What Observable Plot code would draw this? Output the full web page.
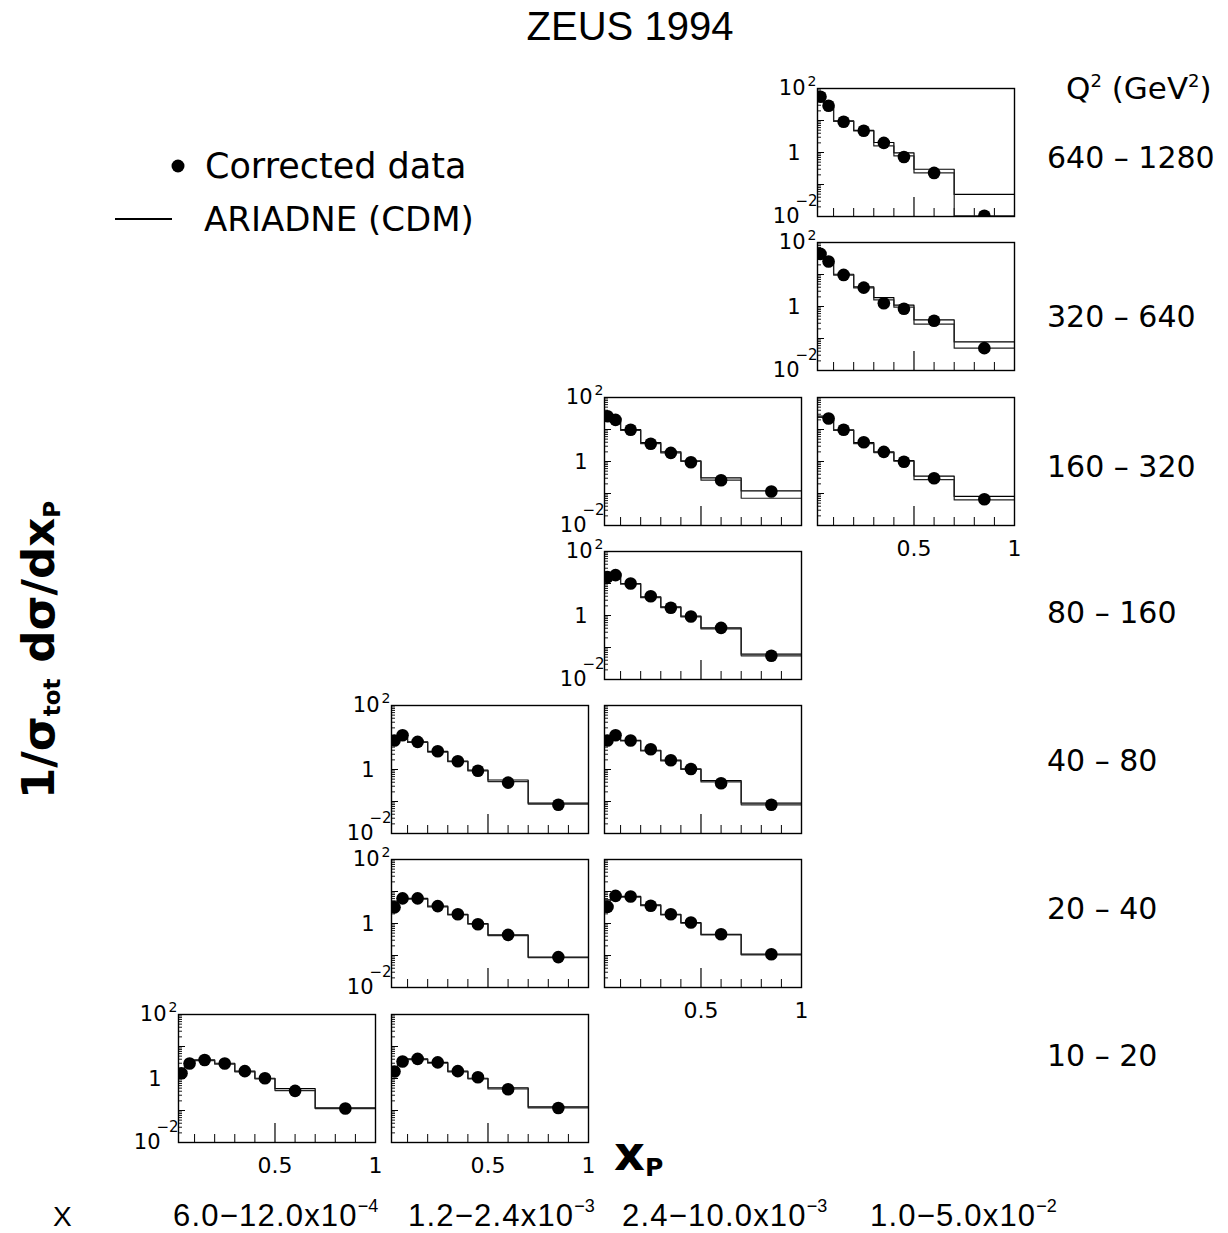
<!DOCTYPE html>
<html>
<head>
<meta charset="utf-8">
<script src="https://cdn.jsdelivr.net/npm/d3@7"></script>
<script src="https://cdn.jsdelivr.net/npm/@observablehq/plot@0.6"></script>
<style>
  html, body { margin: 0; padding: 0; background: #fff; }
  #root { position: relative; width: 1228px; height: 1233px; overflow: hidden; background: #fff; }
  .panel { position: absolute; }
  #overlay { position: absolute; left: 0; top: 0; }
</style>
</head>
<body>
<div id="root"></div>
<script>
// ---------------- data ----------------
const xpEdges   = [0.02, 0.05, 0.1, 0.2, 0.3, 0.4, 0.5, 0.7, 1.0];
const xpCenters = [0.035, 0.075, 0.15, 0.25, 0.35, 0.45, 0.6, 0.85];

const q2Labels = ["640 – 1280", "320 – 640", "160 – 320", "80 – 160", "40 – 80", "20 – 40", "10 – 20"];
const xBinBase = ["6.0−12.0x10", "1.2−2.4x10", "2.4−10.0x10", "1.0−5.0x10"];
const xBinExp  = ["−4", "−3", "−3", "−2"];

const xTickLabels = [0.5, 1];

// panel placement (row = Q2 bin from top, col = x bin)
const panelRow = [0, 1, 2, 2, 3, 4, 4, 5, 5, 6, 6];
const panelCol = [3, 3, 2, 3, 2, 1, 2, 1, 2, 0, 1];

// corrected data, ARIADNE upper / lower histogram per panel
const data_q640_x4  = [55, 29, 9.1, 4.8, 2.0, 0.72, 0.23, 0.0105];
const hi_q640_x4    = [60, 32, 9.8, 4.9, 2.05, 0.98, 0.30, 0.049];
const lo_q640_x4    = [50, 26, 9.4, 4.7, 1.6, 0.78, 0.23, 0.0105];

const data_q320_x4  = [44, 25.5, 9.7, 3.9, 1.26, 0.85, 0.36, 0.050];
const hi_q320_x4    = [52, 27, 10.2, 4.1, 1.9, 1.1, 0.38, 0.078];
const lo_q320_x4    = [46, 24, 9.6, 3.8, 1.6, 0.95, 0.28, 0.050];

const data_q160_x3  = [26, 20, 9.8, 3.6, 1.86, 0.95, 0.26, 0.115];
const hi_q160_x3    = [32, 19, 10, 3.9, 2.0, 1.05, 0.31, 0.12];
const lo_q160_x3    = [30, 17, 9.4, 3.6, 1.85, 1.0, 0.26, 0.071];

const data_q160_x4  = [null, 22, 9.8, 4.0, 2.0, 0.98, 0.30, 0.066];
const hi_q160_x4    = [26, 25, 9.8, 3.9, 2.0, 1.07, 0.35, 0.081];
const lo_q160_x4    = [24, 23, 9.4, 3.6, 1.9, 1.02, 0.27, 0.063];

const data_q80_x3   = [16, 18.3, 10, 4.0, 1.74, 0.93, 0.41, 0.055];
const hi_q80_x3     = [22, 21, 10, 3.8, 1.85, 0.95, 0.41, 0.062];
const lo_q80_x3     = [20, 19, 9.5, 3.6, 1.75, 0.9, 0.38, 0.055];

const data_q40_x2   = [8.1, 11.8, 7.3, 3.7, 1.82, 0.91, 0.39, 0.079];
const hi_q40_x2     = [8.5, 9.5, 7.3, 3.7, 1.82, 0.95, 0.47, 0.089];
const lo_q40_x2     = [8.0, 9.0, 7.0, 3.5, 1.75, 0.9, 0.42, 0.083];

const data_q40_x3   = [8.1, 11.8, 8.1, 4.3, 1.95, 1.04, 0.37, 0.079];
const hi_q40_x3     = [8.5, 9.5, 8.1, 4.0, 1.95, 1.04, 0.45, 0.089];
const lo_q40_x3     = [8.0, 9.0, 7.8, 3.8, 1.85, 1.0, 0.41, 0.079];

const data_q20_x2   = [3.2, 6.1, 6.1, 3.5, 1.94, 0.95, 0.44, 0.089];
const hi_q20_x2     = [5.0, 6.5, 6.1, 3.5, 1.94, 1.0, 0.44, 0.089];
const lo_q20_x2     = [4.5, 6.0, 5.8, 3.3, 1.85, 0.95, 0.42, 0.086];

const data_q20_x3   = [3.3, 7.3, 7.0, 3.6, 1.94, 1.07, 0.46, 0.11];
const hi_q20_x3     = [5.5, 7.0, 7.0, 3.8, 1.94, 1.07, 0.46, 0.11];
const lo_q20_x3     = [5.0, 6.6, 6.7, 3.6, 1.85, 1.02, 0.44, 0.105];

const data_q10_x1   = [1.46, 2.95, 3.8, 2.95, 1.7, 1.02, 0.41, 0.115];
const hi_q10_x1     = [2.0, 3.2, 3.8, 3.0, 1.7, 1.02, 0.48, 0.12];
const lo_q10_x1     = [1.8, 3.0, 3.6, 2.8, 1.62, 0.98, 0.42, 0.115];

const data_q10_x2   = [1.66, 3.4, 4.1, 3.2, 1.7, 1.1, 0.46, 0.12];
const hi_q10_x2     = [2.2, 3.4, 4.1, 3.2, 1.7, 1.02, 0.51, 0.13];
const lo_q10_x2     = [2.0, 3.2, 3.9, 3.0, 1.62, 0.98, 0.47, 0.12];

const panelData = [data_q640_x4, data_q320_x4, data_q160_x3, data_q160_x4, data_q80_x3,
                   data_q40_x2, data_q40_x3, data_q20_x2, data_q20_x3, data_q10_x1, data_q10_x2];
const panelHi   = [hi_q640_x4, hi_q320_x4, hi_q160_x3, hi_q160_x4, hi_q80_x3,
                   hi_q40_x2, hi_q40_x3, hi_q20_x2, hi_q20_x3, hi_q10_x1, hi_q10_x2];
const panelLo   = [lo_q640_x4, lo_q320_x4, lo_q160_x3, lo_q160_x4, lo_q80_x3,
                   lo_q40_x2, lo_q40_x3, lo_q20_x2, lo_q20_x3, lo_q10_x1, lo_q10_x2];

// ---------------- layout ----------------
const colLeft = [178, 391, 604, 817];
const rowTop0 = 88, rowStep = 154.25;
const W = 197, H = 128;
const mL = 52, mR = 4, mT = 14, mB = 34;
const FONT = "'Liberation Sans', Arial, Helvetica, sans-serif";
const GEO = "'DejaVu Sans', Verdana, sans-serif";

const root = document.getElementById("root");

const xMinorTicks = [0.1, 0.2, 0.3, 0.4, 0.6, 0.7, 0.8, 0.9];
const yMajorTicks = [0.01, 0.1, 1, 10, 100];
const yMinorTicks = [];
for (let d = -2; d < 2; d++) for (let k = 2; k <= 9; k++) yMinorTicks.push(k * Math.pow(10, d));

function steps(vals) {
  const out = [];
  vals.forEach((v, i) => { if (v != null) out.push({x: xpEdges[i], y: v}); });
  out.push({x: 1.0, y: vals[vals.length - 1]});
  return out;
}

panelRow.forEach((row, i) => {
  const col = panelCol[i];
  const leftmost = !panelRow.some((r, j) => r === row && panelCol[j] < col);
  const lowest = !panelCol.some((c, j) => c === col && panelRow[j] > row);
  const pts = xpCenters.map((x, k) => ({x, y: panelData[i][k]})).filter(d => d.y != null);

  const marks = [
    Plot.tickX(xMinorTicks, {x: d => d, insetTop: H - 8, stroke: "black", strokeWidth: 1}),
    Plot.tickX([0.5], {x: d => d, insetTop: H - 19, stroke: "black", strokeWidth: 1.2}),
    Plot.tickY(yMajorTicks, {y: d => d, insetRight: W - 7, stroke: "black", strokeWidth: 1}),
    Plot.tickY(yMinorTicks, {y: d => d, insetRight: W - 4, stroke: "black", strokeWidth: 0.9}),
    Plot.line(steps(panelHi[i]), {x: "x", y: "y", curve: "step-after", stroke: "black", strokeWidth: 1.2, clip: true}),
    Plot.line(steps(panelLo[i]), {x: "x", y: "y", curve: "step-after", stroke: "#222", strokeWidth: 1.2, clip: true}),
    Plot.dot(pts, {x: "x", y: "y", r: 6.3, fill: "black", stroke: "none", clip: true}),
    Plot.frame({stroke: "black", strokeWidth: 1.4})
  ];
  if (leftmost) {
    marks.push(
      Plot.text([100], {x: 0.02, y: d => d, text: () => "10", textAnchor: "end", dx: -12, dy: 0, fontSize: 21, fontFamily: GEO}),
      Plot.text([100], {x: 0.02, y: d => d, text: () => "2", textAnchor: "end", dx: -1, dy: -7, fontSize: 14, fontFamily: GEO}),
      Plot.text([1], {x: 0.02, y: d => d, text: () => "1", textAnchor: "end", dx: -17, dy: 1, fontSize: 21, fontFamily: GEO}),
      Plot.text([0.01], {x: 0.02, y: d => d, text: () => "10", textAnchor: "end", dx: -18, dy: 0, fontSize: 21, fontFamily: GEO}),
      Plot.text([0.01], {x: 0.02, y: d => d, text: () => "−2", textAnchor: "end", dx: 0, dy: -15, fontSize: 15, fontFamily: GEO})
    );
  }
  if (lowest) {
    marks.push(
      Plot.text(xTickLabels, {x: d => d, y: 0.01, text: d => String(d), dy: 23, fontSize: 22, fontFamily: GEO})
    );
  }

  const chart = Plot.plot({
    width: W + mL + mR,
    height: H + mT + mB,
    marginLeft: mL, marginRight: mR, marginTop: mT, marginBottom: mB,
    style: {background: "none", overflow: "visible", fontFamily: FONT, color: "black"},
    x: {domain: [0.02, 1.0], axis: null},
    y: {type: "log", domain: [0.01, 100], axis: null},
    marks
  });
  const div = document.createElement("div");
  div.className = "panel";
  div.style.left = (colLeft[col] - mL) + "px";
  div.style.top = (rowTop0 + row * rowStep - mT) + "px";
  div.appendChild(chart);
  root.appendChild(div);
});

// ---------------- overlay text ----------------
const rowLabelY = [157, 316, 466, 612, 760, 908, 1055];
const xLabelStart = [173, 408, 622, 870];

let svg = `<svg id="overlay" width="1228" height="1233" xmlns="http://www.w3.org/2000/svg">`;
svg += `<text x="630" y="40" text-anchor="middle" font-family="${FONT}" font-size="40">ZEUS 1994</text>`;
// legend
svg += `<circle cx="178" cy="166" r="6.5" fill="black"/>`;
svg += `<text x="205" y="178" font-family="${GEO}" font-size="35">Corrected data</text>`;
svg += `<line x1="115" x2="172" y1="219" y2="219" stroke="black" stroke-width="2"/>`;
svg += `<text x="204" y="231" font-family="${GEO}" font-size="34">ARIADNE (CDM)</text>`;
// Q2 header
svg += `<text x="1066" y="99" font-family="${GEO}" font-size="31">Q<tspan font-size="18" dy="-12">2</tspan><tspan dy="12"> (GeV</tspan><tspan font-size="18" dy="-12">2</tspan><tspan dy="12">)</tspan></text>`;
q2Labels.forEach((t, i) => {
  svg += `<text x="1047" y="${rowLabelY[i] + 11}" font-family="${GEO}" font-size="30">${t}</text>`;
});
// x bins along the bottom
svg += `<text x="53" y="1226" font-family="${FONT}" font-size="28">X</text>`;
xBinBase.forEach((t, i) => {
  svg += `<text x="${xLabelStart[i]}" y="1226" font-family="${FONT}" font-size="31" letter-spacing="1.2">${t}<tspan font-size="18" dy="-14" letter-spacing="0">${xBinExp[i]}</tspan></text>`;
});
// axis titles
svg += `<text transform="translate(54,650) rotate(-90)" text-anchor="middle" font-family="${GEO}" font-weight="bold" font-size="45">1/σ<tspan font-size="23" dy="6">tot</tspan><tspan dy="-6"> dσ/dx</tspan><tspan font-size="23" dy="6">P</tspan></text>`;
svg += `<text x="614" y="1170" font-family="${GEO}" font-weight="bold" font-size="48">x<tspan font-size="25" dy="6">P</tspan></text>`;
svg += `</svg>`;
root.insertAdjacentHTML("beforeend", svg);
</script>
</body>
</html>
